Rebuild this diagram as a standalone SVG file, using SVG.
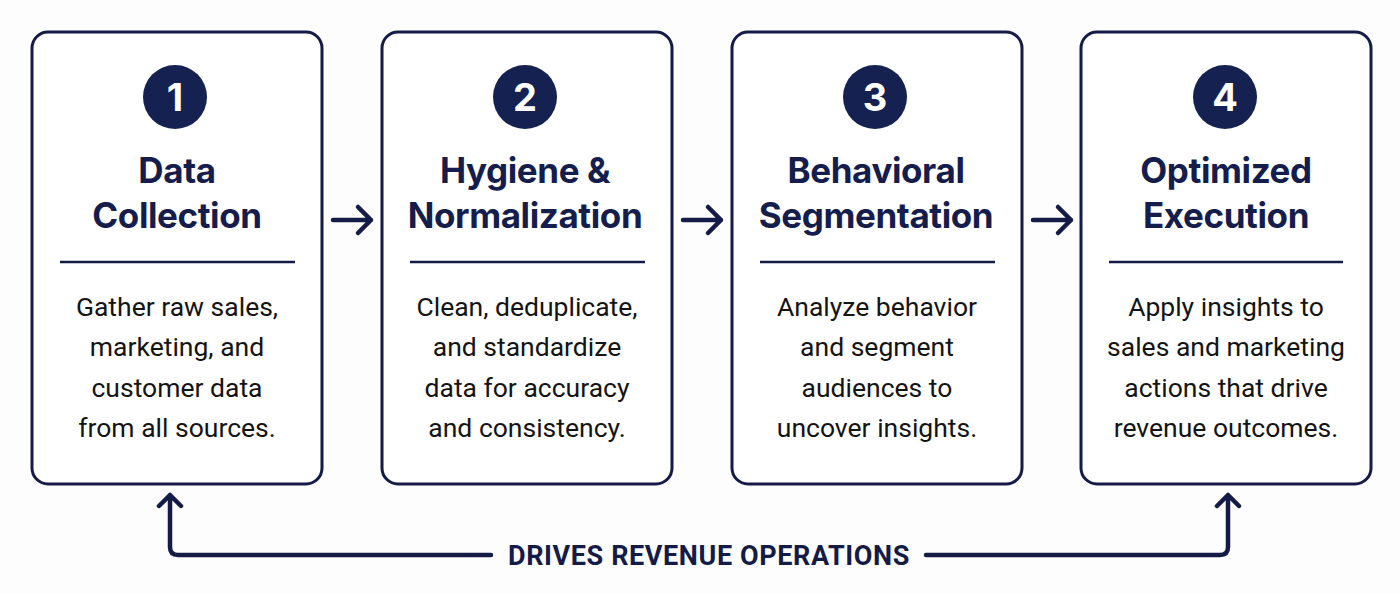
<svg xmlns="http://www.w3.org/2000/svg" width="1400" height="594" viewBox="0 0 1400 594">
<defs>
<style>
.box{fill:#ffffff;stroke:#141b47;stroke-width:3}
.num{fill:#152150}
.numt{font-family:Inter,"Liberation Sans",sans-serif;font-weight:700;font-size:38px;fill:#ffffff;text-anchor:middle}
.title{font-family:Inter,"Liberation Sans",sans-serif;font-weight:700;font-size:35px;letter-spacing:-0.4px;fill:#151d4d;text-anchor:middle}
.div{stroke:#141b47;stroke-width:2.5}
.body{font-family:Roboto,"Liberation Sans",sans-serif;font-size:26.5px;fill:#141414;text-anchor:middle}
.conn{fill:none;stroke:#141b47;stroke-width:4.5;stroke-linecap:round;stroke-linejoin:round}
.lab{font-family:Roboto,"Liberation Sans",sans-serif;font-weight:700;font-size:27px;letter-spacing:0.6px;fill:#141b47;text-anchor:middle}
</style>
</defs>
<rect width="1400" height="594" fill="#fdfdfd"/>
<g id="node1">
<rect class="box" x="32" y="32" width="290" height="452" rx="16"/>
<circle class="num" cx="175" cy="97" r="32"/>
<text class="numt" x="175" y="111">1</text>
<text class="title" x="177" y="183">Data</text>
<text class="title" x="177" y="228">Collection</text>
<line class="div" x1="60" y1="262" x2="295" y2="262"/>
<text class="body" x="177" y="316">Gather raw sales,</text>
<text class="body" x="177" y="356">marketing, and</text>
<text class="body" x="177" y="397">customer data</text>
<text class="body" x="177" y="437">from all sources.</text>
</g>
<g id="node2">
<rect class="box" x="382" y="32" width="290" height="452" rx="16"/>
<circle class="num" cx="525" cy="97" r="32"/>
<text class="numt" x="525" y="111">2</text>
<text class="title" x="525" y="183">Hygiene &amp;</text>
<text class="title" x="525" y="228">Normalization</text>
<line class="div" x1="410" y1="262" x2="645" y2="262"/>
<text class="body" x="527" y="316">Clean, deduplicate,</text>
<text class="body" x="527" y="356">and standardize</text>
<text class="body" x="527" y="397">data for accuracy</text>
<text class="body" x="527" y="437">and consistency.</text>
</g>
<g id="node3">
<rect class="box" x="732" y="32" width="290" height="452" rx="16"/>
<circle class="num" cx="875" cy="97" r="32"/>
<text class="numt" x="875" y="111">3</text>
<text class="title" x="876" y="183">Behavioral</text>
<text class="title" x="876" y="228">Segmentation</text>
<line class="div" x1="760" y1="262" x2="995" y2="262"/>
<text class="body" x="877" y="316">Analyze behavior</text>
<text class="body" x="877" y="356">and segment</text>
<text class="body" x="877" y="397">audiences to</text>
<text class="body" x="877" y="437">uncover insights.</text>
</g>
<g id="node4">
<rect class="box" x="1081" y="32" width="290" height="452" rx="16"/>
<circle class="num" cx="1225" cy="97" r="32"/>
<text class="numt" x="1225" y="111">4</text>
<text class="title" x="1226" y="183">Optimized</text>
<text class="title" x="1226" y="228">Execution</text>
<line class="div" x1="1109" y1="262" x2="1343" y2="262"/>
<text class="body" x="1226" y="316">Apply insights to</text>
<text class="body" x="1226" y="356">sales and marketing</text>
<text class="body" x="1226" y="397">actions that drive</text>
<text class="body" x="1226" y="437">revenue outcomes.</text>
</g>
<g id="connectors">
<path class="conn" d="M333 220H371M358 207L371 220L358 233"/>
<path class="conn" d="M683 220H721M708 207L721 220L708 233"/>
<path class="conn" d="M1033 220H1071M1058 207L1071 220L1058 233"/>
<path class="conn" d="M491 555H178Q170 555 170 547V495M159 506L170 495L181 506"/>
<path class="conn" d="M926 555H1220Q1228 555 1228 547V495M1217 506L1228 495L1239 506"/>
</g>
<text class="lab" x="709" y="565">DRIVES REVENUE OPERATIONS</text>
</svg>
